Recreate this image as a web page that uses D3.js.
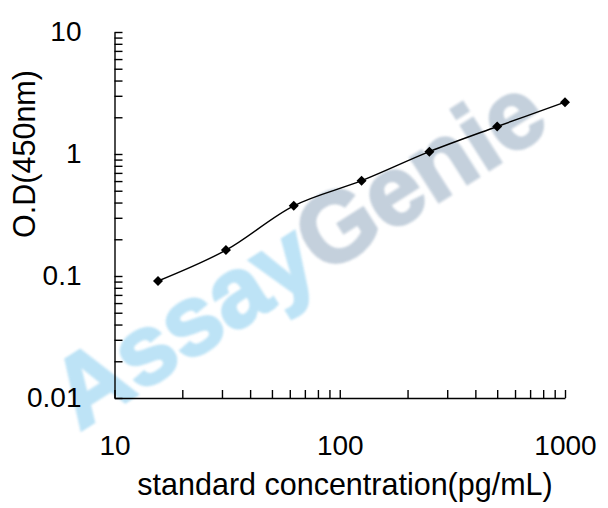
<!DOCTYPE html>
<html>
<head>
<meta charset="utf-8">
<script src="https://cdn.jsdelivr.net/npm/d3@7"></script>
<style>
  html, body { margin: 0; padding: 0; background: #fff; }
  svg { display: block; }
  text { font-family: "Liberation Sans", Arial, sans-serif; fill: #000; }
</style>
</head>
<body>
<svg id="chart" width="608" height="508"></svg>
<script>
// ---- data ----
const concentrations = [15.6, 31.25, 62.5, 125, 250, 500, 1000];
const odValues = [0.091, 0.163, 0.376, 0.604, 1.045, 1.68, 2.66];
const xTickLabels = [10, 100, 1000];
const yTickLabels = [0.01, 0.1, 1, 10];
const xTitle = "standard concentration(pg/mL)";
const yTitle = "O.D(450nm)";
const watermarkParts = ["Assay", "Genie"];

// ---- layout ----
const plotLeft = 114.5, plotRight = 565, plotTop = 32, plotBottom = 398;

const svg = d3.select("#chart");

const x = d3.scaleLog().domain([10, 1000]).range([plotLeft, plotRight]);
const y = d3.scaleLog().domain([0.01, 10]).range([plotBottom, plotTop]);

// watermark
const wm = svg.append("text")
  .attr("transform", "translate(316,280) rotate(-32.5)")
  .attr("text-anchor", "middle")
  .style("font-size", "98px")
  .style("font-weight", "bold")
  .style("stroke-width", "3px")
  .style("filter", "blur(1px)");
wm.append("tspan").text(watermarkParts[0]).style("fill", "#bde3f6").style("stroke", "#bde3f6");
wm.append("tspan").text(watermarkParts[1]).style("fill", "#c4d0dc").style("stroke", "#c4d0dc");

function minorTicks(lo, hi) {
  const t = [];
  for (let d = lo; d < hi - 1e-12; d *= 10) for (let k = 1; k <= 9; k++) t.push(+(d * k).toPrecision(3));
  t.push(hi);
  return t;
}

// x axis
const xAxis = d3.axisBottom(x)
  .tickValues(minorTicks(10, 1000))
  .tickSize(-8).tickSizeOuter(0).tickPadding(37)
  .tickFormat(d => xTickLabels.includes(d) ? d3.format("d")(d) : "");
const gx = svg.append("g").attr("transform", `translate(0,${plotBottom})`).call(xAxis);
gx.selectAll("text").style("font-size", "28px").attr("font-family", null);

// y axis
const yAxis = d3.axisLeft(y)
  .tickValues(minorTicks(0.01, 10))
  .tickSize(-8).tickSizeOuter(0).tickPadding(33)
  .tickFormat(d => yTickLabels.some(v => Math.abs(v - d) < 1e-9) ? String(d) : "");
const gy = svg.append("g").attr("transform", `translate(${plotLeft},0)`).call(yAxis);
gy.selectAll("text").style("font-size", "28px").attr("font-family", null);

[gx, gy].forEach(g => {
  g.selectAll("path, line").attr("stroke", "#000").attr("stroke-width", 1.4);
});

// titles
svg.append("text")
  .attr("x", 345).attr("y", 495)
  .attr("text-anchor", "middle")
  .style("font-size", "30.5px")
  .text(xTitle);
svg.append("text")
  .attr("transform", "translate(35,154) rotate(-90)")
  .attr("text-anchor", "middle")
  .style("font-size", "30.5px")
  .text(yTitle);

// line
const pts = concentrations.map((c, i) => [c, odValues[i]]);
const line = d3.line().x(d => x(d[0])).y(d => y(d[1])).curve(d3.curveCatmullRom.alpha(0.5));
svg.append("path").datum(pts)
  .attr("d", line)
  .attr("fill", "none").attr("stroke", "#000").attr("stroke-width", 1.4);

// markers
svg.selectAll(".pt").data(pts).enter().append("path")
  .attr("class", "pt")
  .attr("transform", d => `translate(${x(d[0])},${y(d[1])})`)
  .attr("d", d3.symbol(d3.symbolDiamond2, 64)())
  .attr("fill", "#000");
</script>
</body>
</html>
